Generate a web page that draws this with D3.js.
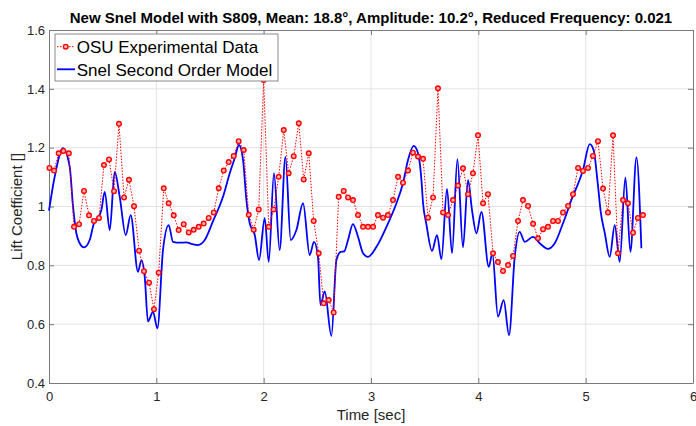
<!DOCTYPE html>
<html>
<head>
<meta charset="utf-8">
<script src="https://cdn.jsdelivr.net/npm/d3@7"></script>
<style>
  body { margin: 0; background: #fff; }
  text { font-family: "Liberation Sans", Arial, sans-serif; }
</style>
</head>
<body>
<div id="chart"></div>
<script>
const chartWidth = 696;
const chartHeight = 426;

const xTicks = [0, 1, 2, 3, 4, 5, 6];
const yTicks = [0.4, 0.6, 0.8, 1, 1.2, 1.4, 1.6];

// OSU experimental data (red dotted, circles)
const osuTime = [0.004, 0.047, 0.090, 0.134, 0.185, 0.233, 0.280, 0.326, 0.373, 0.419,
  0.466, 0.512, 0.559, 0.606, 0.652, 0.699, 0.745, 0.792, 0.839, 0.885,
  0.932, 0.978, 1.022, 1.069, 1.115, 1.162, 1.208, 1.255, 1.302, 1.348,
  1.395, 1.441, 1.488, 1.535, 1.581, 1.628, 1.674, 1.721, 1.767, 1.814,
  1.861, 1.907, 1.954, 2.000, 2.047, 2.093, 2.140, 2.187, 2.233, 2.280,
  2.327, 2.373, 2.420, 2.466, 2.513, 2.559, 2.606, 2.652, 2.699, 2.746,
  2.786, 2.832, 2.879, 2.926, 2.972, 3.019, 3.065, 3.112, 3.158, 3.205,
  3.252, 3.298, 3.345, 3.391, 3.438, 3.485, 3.531, 3.578, 3.624, 3.671,
  3.718, 3.764, 3.811, 3.857, 3.904, 3.950, 3.997, 4.044, 4.090, 4.137,
  4.183, 4.230, 4.277, 4.323, 4.370, 4.416, 4.463, 4.510, 4.556, 4.603,
  4.649, 4.696, 4.742, 4.789, 4.836, 4.882, 4.929, 4.975, 5.022, 5.068,
  5.115, 5.162, 5.208, 5.255, 5.301, 5.348, 5.394, 5.441, 5.487, 5.534];
const osuLift = [1.131, 1.122, 1.181, 1.189, 1.181, 0.931, 0.940, 1.053, 0.970, 0.951,
  0.961, 1.141, 1.160, 1.052, 1.281, 1.031, 1.091, 1.001, 0.850, 0.780,
  0.741, 0.651, 0.775, 1.062, 1.011, 0.970, 0.920, 0.940, 0.912, 0.921,
  0.931, 0.942, 0.961, 0.980, 1.062, 1.122, 1.151, 1.172, 1.222, 1.192,
  0.972, 0.921, 0.990, 1.430, 0.931, 0.990, 1.101, 1.260, 1.113, 1.171,
  1.283, 1.092, 1.181, 0.951, 0.841, 0.671, 0.682, 0.640, 1.033, 1.053,
  1.031, 1.022, 0.971, 0.931, 0.931, 0.931, 0.971, 0.962, 0.971, 1.022,
  1.101, 1.081, 1.122, 1.183, 1.170, 1.162, 0.962, 1.031, 1.402, 0.980,
  0.971, 1.022, 1.071, 1.130, 1.042, 1.113, 1.242, 1.011, 1.042, 0.841,
  0.811, 0.781, 0.801, 0.832, 0.951, 1.022, 1.002, 0.941, 0.892, 0.923,
  0.931, 0.951, 0.951, 0.980, 1.002, 1.042, 1.131, 1.121, 1.131, 1.172,
  1.222, 1.061, 0.980, 1.242, 0.841, 1.022, 1.011, 0.911, 0.961, 0.971];

// Snel second order model (blue solid)
const snelTime = [0.000, 0.053, 0.130, 0.193, 0.224, 0.255, 0.286, 0.326, 0.379, 0.419,
  0.457, 0.488, 0.519, 0.566, 0.612, 0.659, 0.715, 0.761, 0.829, 0.861,
  0.892, 0.922, 0.969, 1.010, 1.062, 1.115, 1.155, 1.218, 1.280, 1.327,
  1.388, 1.451, 1.528, 1.621, 1.684, 1.730, 1.770, 1.808, 1.839, 1.870,
  1.917, 1.957, 2.010, 2.047, 2.096, 2.149, 2.203, 2.252, 2.305, 2.367,
  2.429, 2.469, 2.506, 2.529, 2.569, 2.631, 2.678, 2.718, 2.749, 2.786,
  2.832, 2.879, 2.926, 2.972, 3.051, 3.144, 3.237, 3.298, 3.345, 3.398,
  3.438, 3.470, 3.485, 3.516, 3.568, 3.615, 3.656, 3.708, 3.755, 3.805,
  3.857, 3.904, 3.941, 3.982, 4.029, 4.097, 4.131, 4.183, 4.236, 4.286,
  4.339, 4.385, 4.432, 4.509, 4.572, 4.649, 4.712, 4.789, 4.867, 4.975,
  5.038, 5.075, 5.112, 5.141, 5.178, 5.224, 5.271, 5.317, 5.370, 5.417,
  5.473, 5.519];
const snelLift = [0.986, 1.101, 1.198, 1.135, 1.000, 0.909, 0.875, 0.861, 0.886, 0.943,
  0.960, 0.988, 1.050, 0.920, 1.118, 1.033, 0.903, 0.971, 0.778, 0.818,
  0.761, 0.609, 0.642, 0.586, 0.852, 0.937, 0.880, 0.877, 0.878, 0.873,
  0.869, 0.886, 0.950, 1.033, 1.113, 1.164, 1.209, 1.158, 1.022, 0.943,
  0.903, 0.818, 0.960, 0.812, 1.113, 0.852, 1.169, 0.886, 0.920, 1.011,
  0.835, 0.880, 0.829, 0.665, 0.711, 0.560, 0.818, 0.846, 0.847, 0.886,
  0.940, 0.897, 0.841, 0.829, 0.863, 0.931, 1.011, 1.079, 1.158, 1.206,
  1.181, 1.090, 1.011, 0.940, 0.849, 0.903, 0.821, 1.060, 0.841, 1.161,
  0.861, 1.090, 0.988, 0.909, 0.982, 0.795, 0.841, 0.626, 0.682, 0.563,
  0.829, 0.914, 0.880, 0.897, 0.875, 0.856, 0.875, 0.943, 1.022, 1.124,
  1.212, 1.190, 1.080, 0.980, 0.910, 0.829, 0.937, 0.812, 1.099, 0.846,
  1.167, 0.858];

const titleText = "New Snel Model with S809, Mean: 18.8\u00b0, Amplitude: 10.2\u00b0, Reduced Frequency: 0.021";
const legendNames = ["OSU Experimental Data", "Snel Second Order Model"];

const plotLeft = 49, plotRight = 693, plotTop = 30, plotBottom = 383;
const axisColor = "#7a7a7a";
const gridColor = "#e3e3e3";
const labelColor = "#262626";

const svg = d3.select("#chart").append("svg")
    .attr("width", chartWidth)
    .attr("height", chartHeight);

const x = d3.scaleLinear().domain([0, 6]).range([plotLeft, plotRight]);
const y = d3.scaleLinear().domain([0.4, 1.6]).range([plotBottom, plotTop]);

// grid
svg.append("g")
    .selectAll("line.vgrid")
    .data(xTicks.slice(1, -1))
    .enter().append("line")
    .attr("x1", d => x(d)).attr("x2", d => x(d))
    .attr("y1", plotTop).attr("y2", plotBottom)
    .attr("stroke", gridColor);
svg.append("g")
    .selectAll("line.hgrid")
    .data(yTicks.slice(1, -1))
    .enter().append("line")
    .attr("x1", plotLeft).attr("x2", plotRight)
    .attr("y1", d => y(d)).attr("y2", d => y(d))
    .attr("stroke", gridColor);

// axes (ticks point inward)
function styleAxis(g) {
    g.select(".domain").attr("stroke", axisColor);
    g.selectAll(".tick line").attr("stroke", axisColor);
    g.selectAll(".tick text")
        .attr("fill", labelColor)
        .style("font-size", "13px")
        .style("font-family", "'Liberation Sans', Arial, sans-serif");
}

svg.append("g")
    .attr("transform", `translate(0,${plotBottom})`)
    .call(d3.axisBottom(x).tickValues(xTicks).tickFormat(d3.format("d"))
        .tickSizeInner(-5).tickSizeOuter(0).tickPadding(9))
    .call(styleAxis);

svg.append("g")
    .attr("transform", `translate(${plotLeft},0)`)
    .call(d3.axisLeft(y).tickValues(yTicks).tickFormat(d => d === 1 ? "1" : d3.format(".1f")(d))
        .tickSizeInner(-5).tickSizeOuter(0).tickPadding(4))
    .call(styleAxis);

svg.append("g")
    .attr("transform", `translate(0,${plotTop})`)
    .call(d3.axisTop(x).tickValues(xTicks).tickFormat("").tickSizeInner(-5).tickSizeOuter(0))
    .call(styleAxis);

svg.append("g")
    .attr("transform", `translate(${plotRight},0)`)
    .call(d3.axisRight(y).tickValues(yTicks).tickFormat("").tickSizeInner(-5).tickSizeOuter(0))
    .call(styleAxis);

// snel model line
const snelPoints = snelTime.map((t, i) => [t, snelLift[i]]);
const snelLine = d3.line()
    .x(d => x(d[0]))
    .y(d => y(d[1]))
    .curve(d3.curveMonotoneX);

svg.append("path")
    .datum(snelPoints)
    .attr("d", snelLine)
    .attr("fill", "none")
    .attr("stroke", "#0000ff")
    .attr("stroke-width", 1.8);

// OSU data
const osuPoints = osuTime.map((t, i) => [t, osuLift[i]]);
const osuLine = d3.line()
    .x(d => x(d[0]))
    .y(d => y(d[1]));

svg.append("path")
    .datum(osuPoints)
    .attr("d", osuLine)
    .attr("fill", "none")
    .attr("stroke", "#ff0000")
    .attr("stroke-width", 1)
    .attr("stroke-dasharray", "1.5,1.5");

svg.append("g")
    .selectAll("circle")
    .data(osuPoints)
    .enter().append("circle")
    .attr("cx", d => x(d[0]))
    .attr("cy", d => y(d[1]))
    .attr("r", 2.3)
    .attr("fill", "#ffb0b0")
    .attr("stroke", "#ff0000")
    .attr("stroke-width", 1.4);

// title and labels
svg.append("text")
    .attr("x", (plotLeft + plotRight) / 2)
    .attr("y", 23)
    .attr("text-anchor", "middle")
    .style("font-size", "15px")
    .style("font-weight", "bold")
    .attr("fill", "#000")
    .text(titleText);

svg.append("text")
    .attr("x", (plotLeft + plotRight) / 2)
    .attr("y", 420)
    .attr("text-anchor", "middle")
    .style("font-size", "15px")
    .attr("fill", labelColor)
    .text("Time [sec]");

svg.append("text")
    .attr("transform", `translate(22,${(plotTop + plotBottom) / 2}) rotate(-90)`)
    .attr("text-anchor", "middle")
    .style("font-size", "15px")
    .attr("fill", labelColor)
    .text("Lift Coefficient []");

// legend
const legendX = 55, legendY = 34;
const legend = svg.append("g").attr("transform", `translate(${legendX},${legendY})`);
legend.append("rect")
    .attr("width", 223)
    .attr("height", 47)
    .attr("fill", "#fff")
    .attr("stroke", "#8a8a8a");

legend.append("line")
    .attr("x1", 2).attr("x2", 20).attr("y1", 12.7).attr("y2", 12.7)
    .attr("stroke", "#ff0000").attr("stroke-dasharray", "1.5,1.5");
legend.append("circle")
    .attr("cx", 10.7).attr("cy", 12.7).attr("r", 2.3)
    .attr("fill", "#ffb0b0").attr("stroke", "#ff0000").attr("stroke-width", 1.4);
legend.append("line")
    .attr("x1", 2).attr("x2", 20).attr("y1", 35.3).attr("y2", 35.3)
    .attr("stroke", "#0000ff").attr("stroke-width", 1.8);

legend.selectAll("text.lbl")
    .data(legendNames)
    .enter().append("text")
    .attr("x", 21.7)
    .attr("y", (d, i) => 19 + i * 22.6)
    .style("font-size", "17px")
    .attr("fill", "#000")
    .text(d => d);
</script>
</body>
</html>
